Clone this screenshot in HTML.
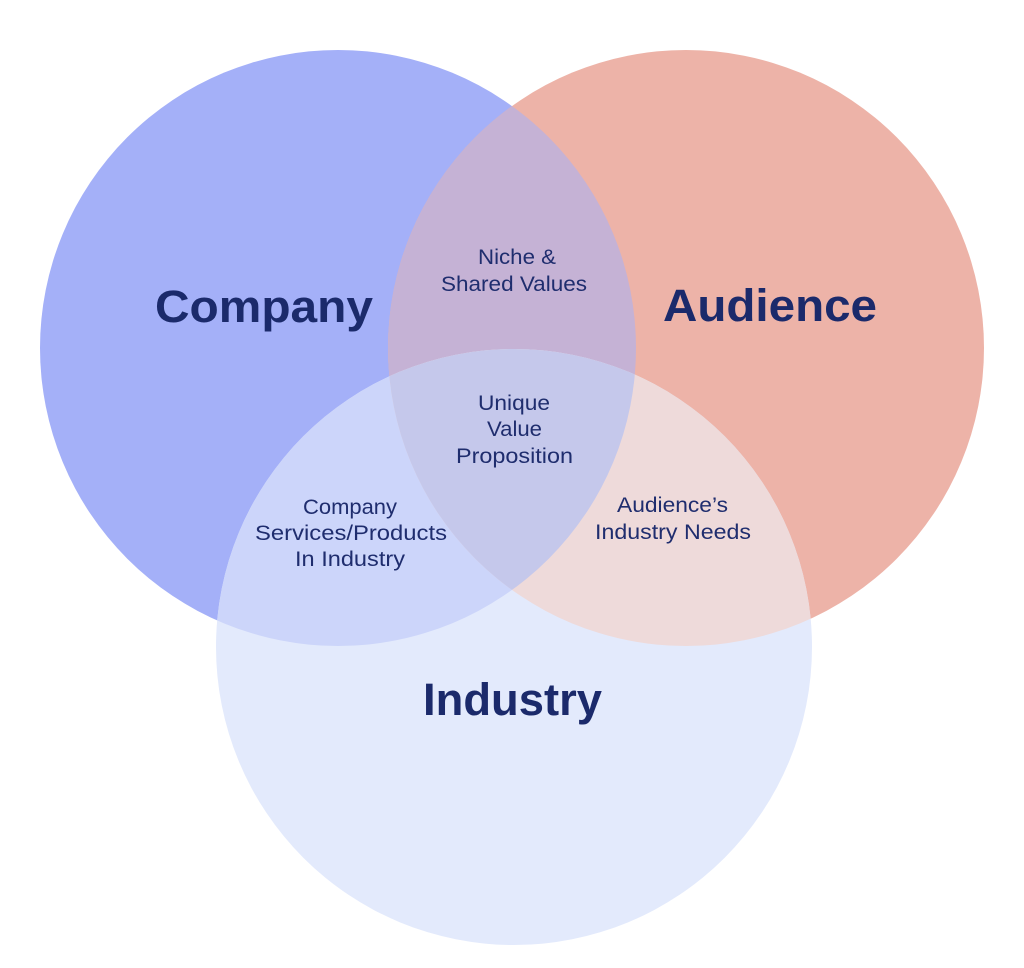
<!DOCTYPE html>
<html>
<head>
<meta charset="utf-8">
<style>
  html, body { margin: 0; padding: 0; background: #ffffff; }
  body { width: 1024px; height: 968px; overflow: hidden; }
  svg { display: block; }
  .big { font-family: "Liberation Sans", sans-serif; font-weight: 700; font-size: 45px; fill: #1b2a6b; }
  .sm { font-family: "Liberation Sans", sans-serif; font-weight: 400; font-size: 21px; fill: #1f2d6e; }
</style>
</head>
<body>
<svg width="1024" height="968" viewBox="0 0 1024 968" xmlns="http://www.w3.org/2000/svg">
  <defs>
    <clipPath id="cC"><circle cx="338" cy="348" r="298"/></clipPath>
    <clipPath id="cA"><circle cx="686" cy="348" r="298"/></clipPath>
  </defs>
  <rect width="1024" height="968" fill="#ffffff"/>
  <circle cx="338" cy="348" r="298" fill="#a4b0f8"/>
  <circle cx="686" cy="348" r="298" fill="#edb3a8"/>
  <circle cx="514" cy="647" r="298" fill="#e3eafc"/>
  <circle cx="686" cy="348" r="298" fill="#c5b2d5" clip-path="url(#cC)"/>
  <circle cx="514" cy="647" r="298" fill="#ccd5fa" clip-path="url(#cC)"/>
  <circle cx="514" cy="647" r="298" fill="#eedada" clip-path="url(#cA)"/>
  <g clip-path="url(#cA)">
    <circle cx="514" cy="647" r="298" fill="#c5c8eb" clip-path="url(#cC)"/>
  </g>

  <text class="big" x="155" y="322" textLength="218" lengthAdjust="spacingAndGlyphs">Company</text>
  <text class="big" x="663" y="321" textLength="214" lengthAdjust="spacingAndGlyphs">Audience</text>
  <text class="big" x="423" y="715" textLength="179" lengthAdjust="spacingAndGlyphs">Industry</text>

  <text class="sm" x="478" y="264" textLength="78" lengthAdjust="spacingAndGlyphs">Niche &amp;</text>
  <text class="sm" x="441" y="291" textLength="146" lengthAdjust="spacingAndGlyphs">Shared Values</text>

  <text class="sm" x="478" y="410" textLength="72" lengthAdjust="spacingAndGlyphs">Unique</text>
  <text class="sm" x="487" y="436" textLength="55" lengthAdjust="spacingAndGlyphs">Value</text>
  <text class="sm" x="456" y="463" textLength="117" lengthAdjust="spacingAndGlyphs">Proposition</text>

  <text class="sm" x="303" y="514" textLength="94" lengthAdjust="spacingAndGlyphs">Company</text>
  <text class="sm" x="255" y="540" textLength="192" lengthAdjust="spacingAndGlyphs">Services/Products</text>
  <text class="sm" x="295" y="566" textLength="110" lengthAdjust="spacingAndGlyphs">In Industry</text>

  <text class="sm" x="617" y="512" textLength="111" lengthAdjust="spacingAndGlyphs">Audience’s</text>
  <text class="sm" x="595" y="539" textLength="156" lengthAdjust="spacingAndGlyphs">Industry Needs</text>
</svg>
</body>
</html>
